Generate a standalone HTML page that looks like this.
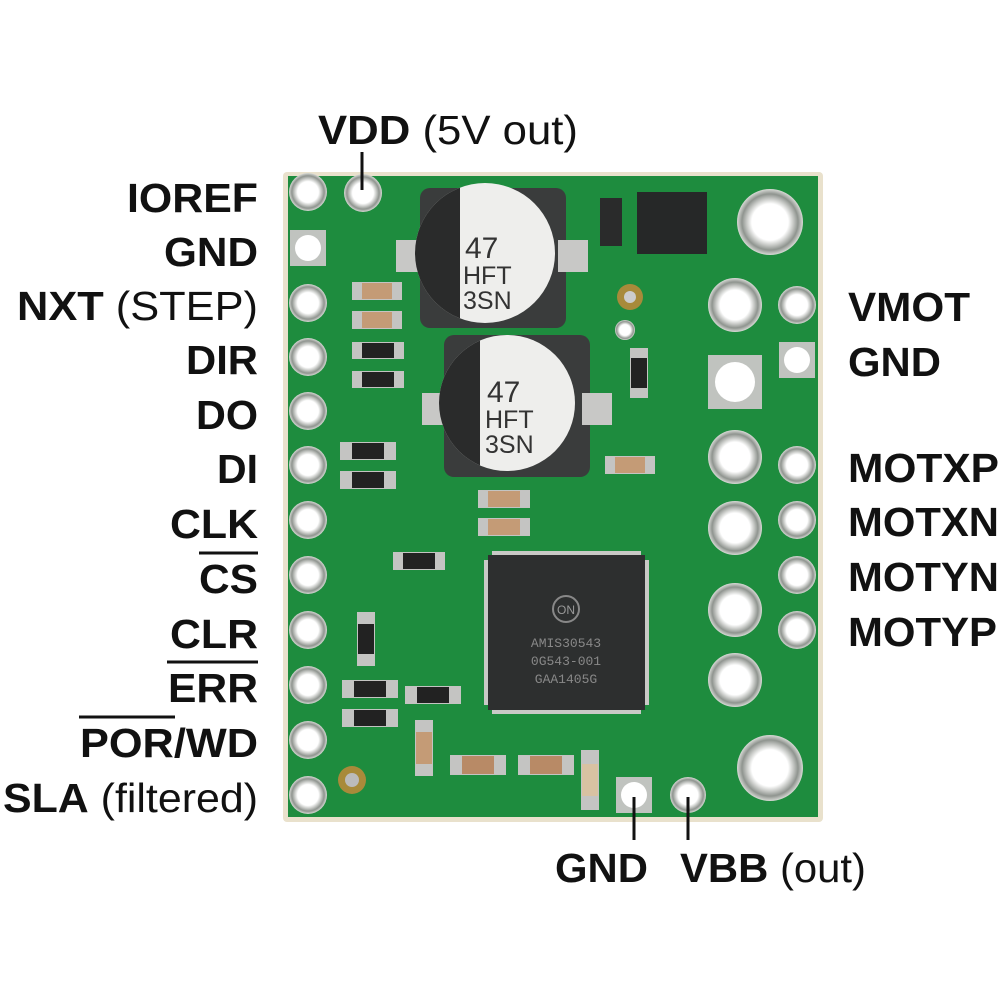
<!DOCTYPE html>
<html><head><meta charset="utf-8"><style>
html,body{margin:0;padding:0;background:#fff;width:1000px;height:1000px;overflow:hidden}
svg{display:block}
text{font-family:"Liberation Sans",Arial,sans-serif;fill:#111}
.b{font-weight:bold}
</style></head><body>
<svg width="1000" height="1000" viewBox="0 0 1000 1000" xmlns="http://www.w3.org/2000/svg">
<defs>
<radialGradient id="pad" cx="50%" cy="50%" r="50%">
<stop offset="0.55" stop-color="#ffffff"/><stop offset="0.7" stop-color="#c9cbc8"/><stop offset="0.85" stop-color="#8f948f"/><stop offset="1" stop-color="#d8dad6"/>
</radialGradient>
<clipPath id="c1"><circle cx="485" cy="253" r="70"/></clipPath>
<clipPath id="c2"><circle cx="507" cy="403" r="68"/></clipPath>
</defs>
<!-- board -->
<rect x="283" y="172" width="540" height="650" rx="4" fill="#e9e1cc"/>
<rect x="288" y="176" width="530" height="641" fill="#1e8c3e"/>
<!-- left pads -->
<g fill="url(#pad)">
<circle cx="308" cy="192" r="19"/>
<circle cx="363" cy="193" r="19"/>
<circle cx="308" cy="303" r="19"/><circle cx="308" cy="357" r="19"/><circle cx="308" cy="411" r="19"/><circle cx="308" cy="465" r="19"/>
<circle cx="308" cy="520" r="19"/><circle cx="308" cy="575" r="19"/><circle cx="308" cy="630" r="19"/><circle cx="308" cy="685" r="19"/>
<circle cx="308" cy="740" r="19"/><circle cx="308" cy="795" r="19"/>
</g>
<rect x="290" y="230" width="36" height="36" fill="#c0c3bf"/><circle cx="308" cy="248" r="13" fill="#fff"/>
<!-- right pads -->
<g fill="url(#pad)">
<circle cx="797" cy="305" r="19"/><circle cx="797" cy="465" r="19"/><circle cx="797" cy="520" r="19"/><circle cx="797" cy="575" r="19"/><circle cx="797" cy="630" r="19"/>
<circle cx="735" cy="305" r="27"/><circle cx="735" cy="457" r="27"/><circle cx="735" cy="528" r="27"/><circle cx="735" cy="610" r="27"/><circle cx="735" cy="680" r="27"/>
<circle cx="770" cy="222" r="33"/><circle cx="770" cy="768" r="33"/>
<circle cx="688" cy="795" r="18"/>
</g>
<rect x="779" y="342" width="36" height="36" fill="#c0c3bf"/><circle cx="797" cy="360" r="13" fill="#fff"/>
<rect x="708" y="355" width="54" height="54" fill="#c0c3bf"/><circle cx="735" cy="382" r="20" fill="#fff"/>
<rect x="616" y="777" width="36" height="36" fill="#c0c3bf"/><circle cx="634" cy="795" r="13" fill="#fff"/>
<circle cx="630" cy="297" r="13" fill="#a88a3a"/><circle cx="630" cy="297" r="6" fill="#ccc"/>
<circle cx="625" cy="330" r="10" fill="url(#pad)"/>
<circle cx="352" cy="780" r="14" fill="#a88a3a"/><circle cx="352" cy="780" r="7" fill="#bbb"/>
<!-- capacitors -->
<rect x="420" y="188" width="146" height="140" rx="10" fill="#3a3c3c"/>
<rect x="396" y="240" width="30" height="32" fill="#c8c8c6"/><rect x="558" y="240" width="30" height="32" fill="#c8c8c6"/>
<g clip-path="url(#c1)"><rect x="400" y="170" width="200" height="170" fill="#eeeeec"/><rect x="400" y="170" width="60" height="170" fill="#2a2b2b"/></g>
<text x="465" y="258" style="font-size:30px;fill:#333">47</text>
<text x="463" y="284" style="font-size:25px;fill:#333">HFT</text>
<text x="463" y="309" style="font-size:25px;fill:#333">3SN</text>
<rect x="444" y="335" width="146" height="142" rx="10" fill="#3a3c3c"/>
<rect x="422" y="393" width="30" height="32" fill="#c8c8c6"/><rect x="582" y="393" width="30" height="32" fill="#c8c8c6"/>
<g clip-path="url(#c2)"><rect x="420" y="320" width="200" height="170" fill="#eeeeec"/><rect x="420" y="320" width="60" height="170" fill="#2a2b2b"/></g>
<text x="487" y="402" style="font-size:30px;fill:#333">47</text>
<text x="485" y="428" style="font-size:25px;fill:#333">HFT</text>
<text x="485" y="453" style="font-size:25px;fill:#333">3SN</text>
<!-- small chips -->
<rect x="637" y="192" width="70" height="62" fill="#262828"/>
<rect x="600" y="198" width="22" height="48" fill="#2a2b2b"/>
<!-- main IC -->
<rect x="488" y="555" width="157" height="155" fill="#2d2f2f"/>
<g fill="#c9c9c6">
<rect x="492" y="551" width="149" height="4"/><rect x="492" y="710" width="149" height="4"/>
<rect x="484" y="560" width="4" height="145"/><rect x="645" y="560" width="4" height="145"/>
</g>
<circle cx="566" cy="609" r="13" fill="none" stroke="#888" stroke-width="2"/>
<text x="566" y="614" text-anchor="middle" style="font-size:12px;fill:#999">ON</text>
<text x="566" y="647" text-anchor="middle" style="font-family:'Liberation Mono',monospace;font-size:13px;fill:#888">AMIS30543</text>
<text x="566" y="665" text-anchor="middle" style="font-family:'Liberation Mono',monospace;font-size:13px;fill:#888">0G543-001</text>
<text x="566" y="683" text-anchor="middle" style="font-family:'Liberation Mono',monospace;font-size:13px;fill:#888">GAA1405G</text>
<!-- passives -->
<g>
<rect x="352" y="282" width="50" height="18" fill="#c4c4c2"/><rect x="362" y="283" width="30" height="16" fill="#c49b76"/>
<rect x="352" y="311" width="50" height="18" fill="#c4c4c2"/><rect x="362" y="312" width="30" height="16" fill="#c49b76"/>
<rect x="352" y="342" width="52" height="17" fill="#c4c4c2"/><rect x="362" y="343" width="32" height="15" fill="#222"/>
<rect x="352" y="371" width="52" height="17" fill="#c4c4c2"/><rect x="362" y="372" width="32" height="15" fill="#222"/>
<rect x="340" y="442" width="56" height="18" fill="#c4c4c2"/><rect x="352" y="443" width="32" height="16" fill="#222"/>
<rect x="340" y="471" width="56" height="18" fill="#c4c4c2"/><rect x="352" y="472" width="32" height="16" fill="#222"/>
<rect x="478" y="490" width="52" height="18" fill="#c4c4c2"/><rect x="488" y="491" width="32" height="16" fill="#c49b76"/>
<rect x="478" y="518" width="52" height="18" fill="#c4c4c2"/><rect x="488" y="519" width="32" height="16" fill="#c49b76"/>
<rect x="393" y="552" width="52" height="18" fill="#c4c4c2"/><rect x="403" y="553" width="32" height="16" fill="#222"/>
<rect x="605" y="456" width="50" height="18" fill="#c4c4c2"/><rect x="615" y="457" width="30" height="16" fill="#c49b76"/>
<rect x="630" y="348" width="18" height="50" fill="#c4c4c2"/><rect x="631" y="358" width="16" height="30" fill="#222"/>
<rect x="357" y="612" width="18" height="54" fill="#c4c4c2"/><rect x="358" y="624" width="16" height="30" fill="#222"/>
<rect x="342" y="680" width="56" height="18" fill="#c4c4c2"/><rect x="354" y="681" width="32" height="16" fill="#222"/>
<rect x="342" y="709" width="56" height="18" fill="#c4c4c2"/><rect x="354" y="710" width="32" height="16" fill="#222"/>
<rect x="405" y="686" width="56" height="18" fill="#c4c4c2"/><rect x="417" y="687" width="32" height="16" fill="#222"/>
<rect x="415" y="720" width="18" height="56" fill="#c4c4c2"/><rect x="416" y="732" width="16" height="32" fill="#c49b76"/>
<rect x="450" y="755" width="56" height="20" fill="#c4c4c2"/><rect x="462" y="756" width="32" height="18" fill="#b88a66"/>
<rect x="518" y="755" width="56" height="20" fill="#c4c4c2"/><rect x="530" y="756" width="32" height="18" fill="#b88a66"/>
<rect x="581" y="750" width="18" height="60" fill="#c4c4c2"/><rect x="582" y="764" width="16" height="32" fill="#d8c2a2"/>
</g>
<!-- leader lines -->
<g stroke="#111" stroke-width="3">
<line x1="362" y1="152" x2="362" y2="190"/>
<line x1="634" y1="797" x2="634" y2="840"/>
<line x1="688" y1="797" x2="688" y2="840"/>
</g>
<!-- top/bottom labels -->
<text x="318" y="144" style="font-size:41px" textLength="260" lengthAdjust="spacingAndGlyphs"><tspan class="b">VDD</tspan> (5V out)</text>
<text x="555" y="882" class="b" style="font-size:41px" textLength="93" lengthAdjust="spacingAndGlyphs">GND</text>
<text x="680" y="882" style="font-size:41px" textLength="186" lengthAdjust="spacingAndGlyphs"><tspan class="b">VBB</tspan> (out)</text>
<!-- left labels -->
<g style="font-size:41px" class="b">
<text x="127" y="212" textLength="131" lengthAdjust="spacingAndGlyphs">IOREF</text>
<text x="164" y="266" textLength="94" lengthAdjust="spacingAndGlyphs">GND</text>
<text x="17" y="320" textLength="241" lengthAdjust="spacingAndGlyphs">NXT<tspan font-weight="normal"> (STEP)</tspan></text>
<text x="186" y="374" textLength="72" lengthAdjust="spacingAndGlyphs">DIR</text>
<text x="196" y="429" textLength="62" lengthAdjust="spacingAndGlyphs">DO</text>
<text x="217" y="483" textLength="41" lengthAdjust="spacingAndGlyphs">DI</text>
<text x="170" y="538" textLength="88" lengthAdjust="spacingAndGlyphs">CLK</text>
<text x="199" y="593" textLength="59" lengthAdjust="spacingAndGlyphs">CS</text>
<text x="170" y="648" textLength="88" lengthAdjust="spacingAndGlyphs">CLR</text>
<text x="168" y="702" textLength="90" lengthAdjust="spacingAndGlyphs">ERR</text>
<text x="80" y="757" textLength="178" lengthAdjust="spacingAndGlyphs">POR/WD</text>
<text x="3" y="812" textLength="255" lengthAdjust="spacingAndGlyphs">SLA<tspan font-weight="normal"> (filtered)</tspan></text>
</g>
<g stroke="#111" stroke-width="3">
<line x1="199" y1="553" x2="258" y2="553"/>
<line x1="167" y1="662" x2="258" y2="662"/>
<line x1="79" y1="717" x2="175" y2="717"/>
</g>
<!-- right labels -->
<g style="font-size:41px" class="b">
<text x="848" y="321" textLength="122" lengthAdjust="spacingAndGlyphs">VMOT</text>
<text x="848" y="376" textLength="93" lengthAdjust="spacingAndGlyphs">GND</text>
<text x="848" y="482" textLength="151" lengthAdjust="spacingAndGlyphs">MOTXP</text>
<text x="848" y="536" textLength="151" lengthAdjust="spacingAndGlyphs">MOTXN</text>
<text x="848" y="591" textLength="151" lengthAdjust="spacingAndGlyphs">MOTYN</text>
<text x="848" y="646" textLength="149" lengthAdjust="spacingAndGlyphs">MOTYP</text>
</g>
</svg>
</body></html>
